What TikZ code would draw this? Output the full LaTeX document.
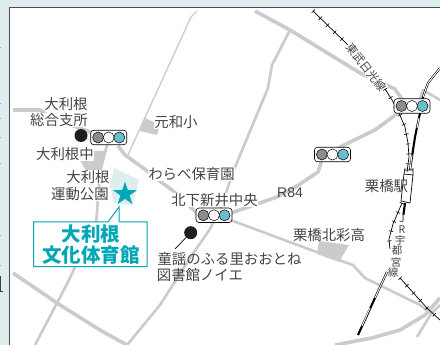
\documentclass[tikz,border=0pt]{standalone}
\usepackage{fontspec}
\setmainfont{Noto Sans CJK JP}
\setsansfont{Liberation Sans}
\usetikzlibrary{shapes.geometric}
\definecolor{panel}{HTML}{DEECEE}
\definecolor{roadgray}{HTML}{C9CBCD}
\definecolor{parkteal}{HTML}{DDEEEE}
\definecolor{brand}{HTML}{00A7B7}
\definecolor{sigblue}{HTML}{6CBDCC}
\definecolor{siggray}{HTML}{8B8D90}
\definecolor{inkc}{HTML}{444444}
\tikzset{
  road/.style={draw=roadgray,line width=3.6pt,line join=round},
  thinroad/.style={draw=roadgray,line width=1.3pt,line join=round},
  midroad/.style={draw=roadgray,line width=2.6pt,line join=round},
  site/.style={fill=roadgray,draw=none},
  lbl/.style={font=\fontsize{14.4}{15}\selectfont,text=inkc,fill=white,inner sep=0.3pt},
  raillbl/.style={font=\fontsize{10.5}{10.5}\selectfont,text=inkc,fill=white,inner sep=0.2pt},
  railthin/.style={draw=black,line width=0.7pt},
  railtick/.style={draw=black,line width=4.6pt,dash pattern=on 0.6pt off 9.4pt},
  jrout/.style={draw=black,line width=2.1pt},
  jrin/.style={draw=white,line width=0.9pt},
  sigbox/.style={draw=black,fill=white,rounded corners=3pt,line width=0.6pt,minimum width=36pt,minimum height=14.5pt,inner sep=0pt},
  lamp/.style={circle,draw=black,line width=0.5pt,minimum size=11pt,inner sep=0pt},
  spot/.style={circle,fill=black!88,minimum size=13pt,inner sep=0pt},
  calloutstyle/.style={draw=brand,fill=white,line width=1pt,line join=miter},
  calltext/.style={font=\fontsize{19.5}{20}\selectfont\bfseries,text=brand,inner sep=0pt}
}
\newcommand{\sigset}[2]{%
  \node[sigbox] (#1) at (#2) {};
  \node[lamp,fill=siggray] (#1a) at ([xshift=-10.6pt]#1.center) {};
  \node[lamp,fill=white] (#1b) at (#1.center) {};
  \node[lamp,fill=sigblue] (#1c) at ([xshift=10.6pt]#1.center) {};
}
\begin{document}
\begin{tikzpicture}[x=1pt,y=-1pt]
\useasboundingbox (0,0) rectangle (440,345);
\fill[panel] (0,0) rectangle (440,345);
\fill[white] (9.5,7.5) rectangle (440,345);
\draw[draw=black!70,line width=0.9pt] (9.5,345) -- (9.5,7.5) -- (440,7.5);
% cropped text at the left edge
\foreach \yy in {47,103,118,137,163,235,265}
  \draw[black!35,line width=0.4pt] (0,\yy) -- (1,\yy);
\draw[black!75,line width=0.6pt] (0.3,276) -- (0.3,292) (0,291) -- (3,291);
\begin{scope}
\clip (10,8) rectangle (440,345);
% sites
\fill[parkteal] (114,168) -- (139,180) -- (132,205) -- (114,203) -- (110,186) -- cycle;
\fill[site] (145,118) -- (160,125) -- (157,135) -- (140,131) -- cycle;
\fill[site] (80,160) -- (93,151) -- (106,151) -- (101,171) -- (87,173) -- cycle;
\fill[site] (319,241) -- (349,245) -- (339,262) -- (317,254) -- cycle;
% roads
\draw[thinroad] (197,11) -- (191,17) -- (127,157);
\draw[road] (13,110) -- (40,110) -- (50,117) -- (90,132) -- (108,138) (118,146) -- (125,155) -- (146,170) -- (157,179) -- (172,190) -- (198,214);
\draw[midroad] (107,145) -- (100,172) -- (96,225) -- (75,267) -- (69,280) -- (35,345);
\draw[road] (13,273) -- (60,305) -- (100,330) -- (127,345);
\draw[midroad] (290,30) -- (272,65) -- (268,88) -- (233,172) -- (222,205) -- (210,229) -- (192,255) -- (160,305) -- (127,345);
\draw[road] (255,11) -- (290,30) -- (360,73) -- (395,89) -- (406,105);
\draw[road] (405,108) -- (375,130) -- (340,147) -- (322,160) -- (318,172) -- (297,186) -- (277,197) -- (257,204) -- (225,215);
\draw[midroad] (225,218) -- (330,257) -- (353,265) -- (365,278) -- (420,305) -- (432,314);
\draw[road] (335,345) -- (372,338) -- (400,330) -- (425,315) -- (440,298);
\draw[midroad] (417,337) -- (431,314) -- (440,305);
\draw[midroad] (418,105) -- (423,90) -- (440,100);
% JR line
\draw[jrout] (440,68) -- (428,83) -- (423,97) -- (420,113) -- (415,137) -- (410,170);
\draw[jrin] (440,68) -- (428,83) -- (423,97);
\draw[jrin] (419,118) -- (417,128);
\draw[jrin] (412,155) -- (410,170);
\draw[jrout] (405,203) -- (403,218);
\draw[jrout] (387,272) -- (380,287) -- (358,335);
\draw[jrin] (387,272) -- (380,287) -- (375,298);
\draw[jrin] (370,308) -- (362,326);
% Tobu line
\draw[railthin] (313,11) -- (348,45);
\draw[railtick] (313,11) -- (348,45);
\draw[railthin] (385,89) -- (392,100) -- (399,113) -- (405,127) -- (408,143) -- (409,157) -- (407,172);
\draw[railtick] (385,89) -- (392,100) -- (399,113) -- (405,127) -- (408,143) -- (409,157) -- (407,172);
\draw[railthin] (402,203) -- (393,224) -- (389,239) -- (390,249);
\draw[railtick] (402,203) -- (393,224) -- (389,239) -- (390,249);
\draw[railthin] (400,278) -- (427,308) -- (440,320);
\draw[railtick] (400,278) -- (427,308) -- (440,320);
% station
\draw[black,line width=0.7pt,fill=white] (404,174) -- (413,175) -- (410,203) -- (401,201) -- cycle;
\draw[black,line width=0.6pt] (405,168) -- (404,174) (413,168) -- (413,175) (405,170) -- (413,170);
\end{scope}
% rail labels
\node[raillbl,font=\fontsize{11.4}{11.4}\selectfont,rotate=-52] (tobu) at (366,67) {東武日光線};
\node[raillbl] (jrA) at (402,219) {J};
\node[raillbl] (jrB) at (402,230) {R};
\node[raillbl] (jrC) at (400,241) {宇};
\node[raillbl] (jrD) at (397,251) {都};
\node[raillbl] (jrE) at (396,262) {宮};
\node[raillbl] (jrF) at (393,273) {線};
% labels
\node[lbl] (a1) at (66,104) {大利根};
\node[lbl] (a2) at (59,120) {総合支所};
\node[lbl] (a3) at (65,154) {大利根中};
\node[lbl] (a4) at (88,177) {大利根};
\node[lbl] (a5) at (80,194) {運動公園};
\node[lbl] (a6) at (176,122) {元和小};
\node[lbl] (a7) at (191.5,174) {わらべ保育園};
\node[lbl] (a8) at (214.5,200) {北下新井中央};
\node[lbl,font=\sffamily\fontsize{14}{14}\selectfont,inner sep=0pt,fill=none] (a9) at (290,193) {R84};
\node[lbl,inner sep=0pt,fill=none] (a10) at (386.5,186) {栗橋駅};
\node[lbl,inner sep=0pt,fill=none] (a11) at (329,235) {栗橋北彩高};
\node[lbl,inner sep=0pt,fill=none] (a12) at (229.5,259) {童謡のふる里おおとね};
\node[lbl,inner sep=0pt,fill=none] (a13) at (200,275) {図書館ノイエ};
% signals
\sigset{s1}{108.7,137.5}
\sigset{s2}{332.5,154.5}
\sigset{s3}{214,215.3}
\sigset{s4}{412,106}
% spots
\node[spot] (p1) at (81,135.5) {};
\node[spot] (p2) at (190.7,232.7) {};
\coordinate (p2end) at (175,249);
\draw[black,line width=0.7pt] (p2) -- (p2end);
% star and callout
\node[star,star points=5,star point ratio=2.6,fill=brand,minimum size=25pt,inner sep=0pt] (venue) at (125,194) {};
\draw[calloutstyle] (33.5,222) -- (108,222) -- (119,207) -- (119,222) -- (147,222) -- (147,266.5) -- (33.5,266.5) -- cycle;
\node[calltext] (c1) at (91,234) {大利根};
\node[calltext] (c2) at (91,255) {文化体育館};
\end{tikzpicture}
\end{document}
